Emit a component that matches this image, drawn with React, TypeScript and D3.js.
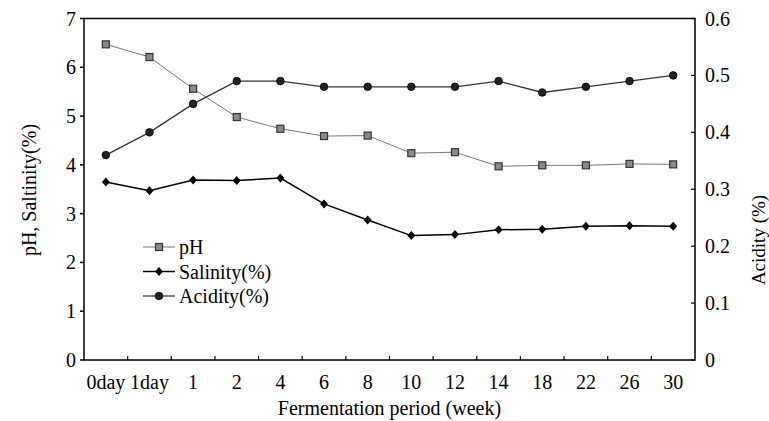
import React from "react";
import * as d3 from "d3";

const categories = ["0day", "1day", "1", "2", "4", "6", "8", "10", "12", "14", "18", "22", "26", "30"];
const phValues = [6.47, 6.21, 5.56, 4.98, 4.74, 4.59, 4.6, 4.24, 4.26, 3.97, 3.99, 3.99, 4.02, 4.01];
const salinityValues = [3.65, 3.47, 3.69, 3.68, 3.73, 3.2, 2.87, 2.55, 2.57, 2.67, 2.68, 2.74, 2.75, 2.74];
const acidityValues = [0.36, 0.4, 0.45, 0.49, 0.49, 0.48, 0.48, 0.48, 0.48, 0.49, 0.47, 0.48, 0.49, 0.5];
const leftTicks = [0, 1, 2, 3, 4, 5, 6, 7];
const rightTicks = [0, 0.1, 0.2, 0.3, 0.4, 0.5, 0.6];

const W = 769;
const H = 421;
const left = 84;
const right = 695;
const top = 18.5;
const bottom = 360;
const FONT = "Liberation Serif, Times New Roman, Times, serif";

const Square = ({ x, y }: { x: number; y: number }) => (
  <rect x={x - 3.5} y={y - 3.5} width={7} height={7} fill="#8a8a8a" stroke="#333" strokeWidth={1.2} />
);
const Diamond = ({ x, y }: { x: number; y: number }) => (
  <path d={`M${x},${y - 4.5}L${x + 4},${y}L${x},${y + 4.5}L${x - 4},${y}Z`} fill="#000" />
);
const Dot = ({ x, y }: { x: number; y: number }) => (
  <circle cx={x} cy={y} r={3.8} fill="#222" stroke="#000" strokeWidth={0.8} />
);

export default function App() {
  const x = d3.scaleBand<string>().domain(categories).range([left, right]);
  const cx = (c: string) => (x(c) as number) + x.bandwidth() / 2;
  const y = d3.scaleLinear().domain([0, 7]).range([bottom, top]);
  const y2 = d3.scaleLinear().domain([0, 0.6]).range([bottom, top]);

  const lineL = d3
    .line<number>()
    .x((_, i) => cx(categories[i]))
    .y((d) => y(d));
  const lineR = d3
    .line<number>()
    .x((_, i) => cx(categories[i]))
    .y((d) => y2(d));

  const legendRows = [
    { label: "pH", color: "#777", width: 1, Marker: Square },
    { label: "Salinity(%)", color: "#000", width: 1.5, Marker: Diamond },
    { label: "Acidity(%)", color: "#333", width: 1.3, Marker: Dot },
  ];

  const txt = { fontFamily: FONT, fontSize: 20 };

  return (
    <svg width={W} height={H} style={{ position: "absolute", left: 0, top: 0, background: "#fff" }}>
      {/* series */}
      <path d={lineL(phValues) || ""} fill="none" stroke="#777" strokeWidth={1} />
      <path d={lineR(acidityValues) || ""} fill="none" stroke="#333" strokeWidth={1.3} />
      <path d={lineL(salinityValues) || ""} fill="none" stroke="#000" strokeWidth={1.5} />
      {phValues.map((d, i) => (
        <Square key={"p" + i} x={cx(categories[i])} y={y(d)} />
      ))}
      {salinityValues.map((d, i) => (
        <Diamond key={"s" + i} x={cx(categories[i])} y={y(d)} />
      ))}
      {acidityValues.map((d, i) => (
        <Dot key={"a" + i} x={cx(categories[i])} y={y2(d)} />
      ))}

      {/* frame */}
      <rect x={left} y={top} width={right - left} height={bottom - top} fill="none" stroke="#000" strokeWidth={1.5} />

      {/* left axis */}
      {leftTicks.map((t) => (
        <g key={"l" + t}>
          <line x1={left - 4} x2={left} y1={y(t)} y2={y(t)} stroke="#000" strokeWidth={1.5} />
          <text x={76} y={y(t)} dy="0.35em" textAnchor="end" style={txt}>
            {t}
          </text>
        </g>
      ))}
      {/* right axis */}
      {rightTicks.map((t) => (
        <g key={"r" + t}>
          <line x1={right - 4} x2={right} y1={y2(t)} y2={y2(t)} stroke="#000" strokeWidth={1.2} />
          <text x={705} y={y2(t)} dy="0.35em" textAnchor="start" style={txt}>
            {t === 0 ? "0" : t.toFixed(1)}
          </text>
        </g>
      ))}
      {/* x axis */}
      {categories.slice(1).map((c) => (
        <line key={"t" + c} x1={x(c)} x2={x(c)} y1={bottom} y2={bottom - 4} stroke="#000" strokeWidth={1.2} />
      ))}
      {categories.map((c) => (
        <text key={"x" + c} x={cx(c)} y={382} dy="0.35em" textAnchor="middle" style={txt}>
          {c}
        </text>
      ))}

      {/* titles */}
      <text x={(left + right) / 2} y={408} dy="0.35em" textAnchor="middle" style={txt}>
        Fermentation period (week)
      </text>
      <text transform={`translate(29,190) rotate(-90)`} dy="0.35em" textAnchor="middle" style={txt}>
        pH, Saltinity(%)
      </text>
      <text transform={`translate(758,240) rotate(-90)`} dy="0.35em" textAnchor="middle" style={{ ...txt, fontSize: 19 }}>
        Acidity (%)
      </text>

      {/* legend */}
      {legendRows.map((r, i) => {
        const ly = 247 + i * 24.5;
        return (
          <g key={r.label}>
            <line x1={143} x2={175} y1={ly} y2={ly} stroke={r.color} strokeWidth={r.width} />
            <r.Marker x={159} y={ly} />
            <text x={179} y={ly} dy="0.35em" style={txt}>
              {r.label}
            </text>
          </g>
        );
      })}
    </svg>
  );
}
